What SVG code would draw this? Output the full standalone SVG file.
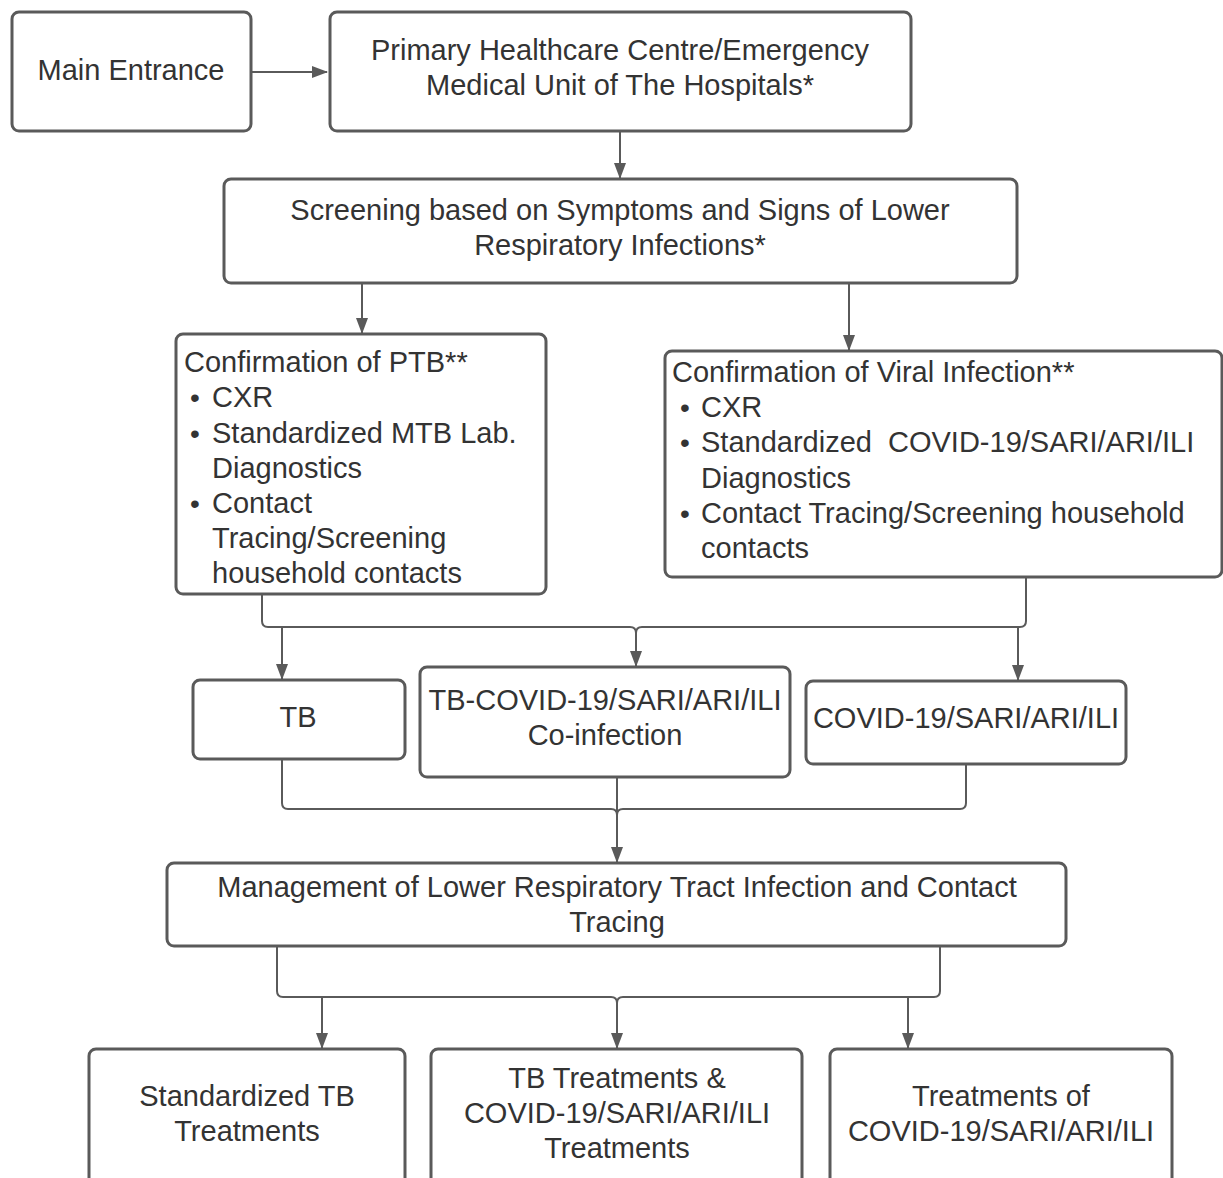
<svg xmlns="http://www.w3.org/2000/svg" width="1223" height="1178" viewBox="0 0 1223 1178">
<style>
.box{fill:#fff;stroke:#5a5a5a;stroke-width:3}
.t{font-family:"Liberation Sans",Arial,sans-serif;font-size:29px;fill:#333}
.b{font-size:28px}
.c{text-anchor:middle}
.ln{fill:none;stroke:#5a5a5a;stroke-width:2}
</style>
<defs>
<marker id="ah" markerWidth="16" markerHeight="12" refX="15" refY="6" orient="auto" markerUnits="userSpaceOnUse">
<path d="M0,0 L16,6 L0,12 Z" fill="#5a5a5a"/>
</marker>
</defs>
<rect width="1223" height="1178" fill="#fff"/>
<g id="connectors">
<path class="ln" d="M251,72 H327" marker-end="url(#ah)"/>
<path class="ln" d="M620,131 V178" marker-end="url(#ah)"/>
<path class="ln" d="M362,283 V333" marker-end="url(#ah)"/>
<path class="ln" d="M849,283 V350" marker-end="url(#ah)"/>
<path class="ln" d="M262,594 V621 Q262,627 268,627 H630 Q636,627 636,633 Q636,627 642,627 H1020 Q1026,627 1026,621 V577"/>
<path class="ln" d="M282,627 V679" marker-end="url(#ah)"/>
<path class="ln" d="M636,633 V666" marker-end="url(#ah)"/>
<path class="ln" d="M1018,627 V680" marker-end="url(#ah)"/>
<path class="ln" d="M282,759 V803 Q282,809 288,809 H611 Q617,809 617,815 Q617,809 623,809 H960 Q966,809 966,803 V764"/>
<path class="ln" d="M617,777 V862" marker-end="url(#ah)"/>
<path class="ln" d="M277,946 V991 Q277,997 283,997 H611 Q617,997 617,1003 Q617,997 623,997 H934 Q940,997 940,991 V946"/>
<path class="ln" d="M322,997 V1048" marker-end="url(#ah)"/>
<path class="ln" d="M617,1003 V1048" marker-end="url(#ah)"/>
<path class="ln" d="M908,997 V1048" marker-end="url(#ah)"/>
</g>
<g id="main-entrance">
<rect class="box" x="12" y="12" width="239" height="119" rx="7"/>
<text class="t c" x="131" y="80">Main Entrance</text>
</g>
<g id="primary">
<rect class="box" x="330" y="12" width="581" height="119" rx="7"/>
<text class="t c" x="620" y="60">Primary Healthcare Centre/Emergency</text>
<text class="t c" x="620" y="95">Medical Unit of The Hospitals*</text>
</g>
<g id="screening">
<rect class="box" x="224" y="179" width="793" height="104" rx="7"/>
<text class="t c" x="620" y="220">Screening based on Symptoms and Signs of Lower</text>
<text class="t c" x="620" y="255">Respiratory Infections*</text>
</g>
<g id="ptb">
<rect class="box" x="176" y="334" width="370" height="260" rx="7"/>
<text class="t" x="184" y="372">Confirmation of PTB**</text>
<text class="t b" x="190" y="407">•</text><text class="t" x="212" y="407">CXR</text>
<text class="t b" x="190" y="443">•</text><text class="t" x="212" y="443">Standardized MTB Lab.</text>
<text class="t" x="212" y="478">Diagnostics</text>
<text class="t b" x="190" y="513">•</text><text class="t" x="212" y="513">Contact</text>
<text class="t" x="212" y="548">Tracing/Screening</text>
<text class="t" x="212" y="583">household contacts</text>
</g>
<g id="viral">
<rect class="box" x="665" y="351" width="557" height="226" rx="7"/>
<text class="t" x="672" y="382">Confirmation of Viral Infection**</text>
<text class="t b" x="680" y="417">•</text><text class="t" x="701" y="417">CXR</text>
<text class="t b" x="680" y="452">•</text><text class="t" x="701" y="452" xml:space="preserve">Standardized  COVID-19/SARI/ARI/ILI</text>
<text class="t" x="701" y="488">Diagnostics</text>
<text class="t b" x="680" y="523">•</text><text class="t" x="701" y="523">Contact Tracing/Screening household</text>
<text class="t" x="701" y="558">contacts</text>
</g>
<g id="tb">
<rect class="box" x="193" y="680" width="212" height="79" rx="7"/>
<text class="t c" x="298" y="727">TB</text>
</g>
<g id="coinfection">
<rect class="box" x="420" y="667" width="370" height="110" rx="7"/>
<text class="t c" x="605" y="710">TB-COVID-19/SARI/ARI/ILI</text>
<text class="t c" x="605" y="745">Co-infection</text>
</g>
<g id="covid">
<rect class="box" x="806" y="681" width="320" height="83" rx="7"/>
<text class="t c" x="966" y="728">COVID-19/SARI/ARI/ILI</text>
</g>
<g id="management">
<rect class="box" x="167" y="863" width="899" height="83" rx="7"/>
<text class="t c" x="617" y="897">Management of Lower Respiratory Tract Infection and Contact</text>
<text class="t c" x="617" y="932">Tracing</text>
</g>
<g id="std-tb">
<rect class="box" x="89" y="1049" width="316" height="140" rx="7"/>
<text class="t c" x="247" y="1106">Standardized TB</text>
<text class="t c" x="247" y="1141">Treatments</text>
</g>
<g id="tb-covid-treat">
<rect class="box" x="431" y="1049" width="371" height="140" rx="7"/>
<text class="t c" x="617" y="1088">TB Treatments &amp;</text>
<text class="t c" x="617" y="1123">COVID-19/SARI/ARI/ILI</text>
<text class="t c" x="617" y="1158">Treatments</text>
</g>
<g id="covid-treat">
<rect class="box" x="830" y="1049" width="342" height="140" rx="7"/>
<text class="t c" x="1001" y="1106">Treatments of</text>
<text class="t c" x="1001" y="1141">COVID-19/SARI/ARI/ILI</text>
</g>
</svg>
